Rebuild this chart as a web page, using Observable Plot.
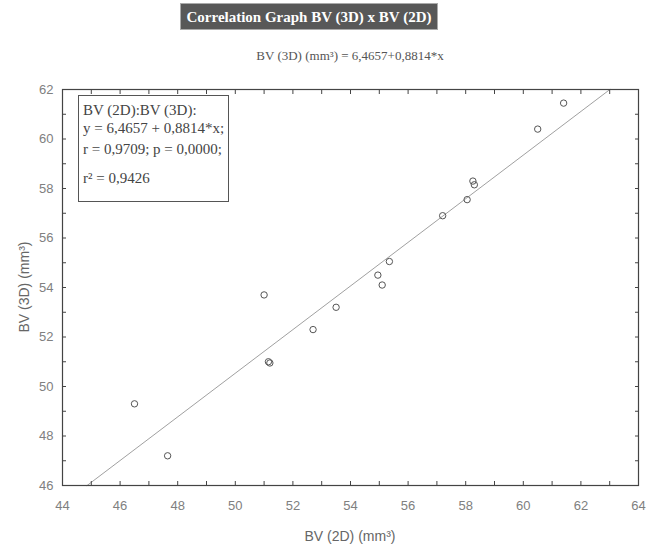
<!DOCTYPE html>
<html>
<head>
<meta charset="utf-8">
<script src="https://cdn.jsdelivr.net/npm/d3@7"></script>
<script src="https://cdn.jsdelivr.net/npm/@observablehq/plot@0.6"></script>
<style>
  html, body { margin: 0; padding: 0; background: #fff; }
  #wrap { position: relative; width: 646px; height: 549px; overflow: hidden; }
  #title { position: absolute; left: 180px; top: 3px; width: 258px; height: 27px;
    background: #585858; color: #fff; font: bold 15px "Liberation Serif", "DejaVu Serif", serif;
    text-align: center; line-height: 27px; white-space: nowrap; border: 1px solid #aaa; box-sizing: border-box; }
  #subtitle { position: absolute; left: 0; width: 700px; top: 48px; text-align: center;
    font: 13px "Liberation Serif", serif; color: #555; white-space: nowrap; }
  #legend { position: absolute; left: 78px; top: 95px; width: 151px; height: 107px;
    border: 1px solid #555; background: #fff; font: 15px "Liberation Serif", serif; color: #444;
    padding: 6px 0 0 4px; box-sizing: border-box; line-height: 17px; white-space: nowrap; }
  #xtitle { position: absolute; left: 0; width: 700px; top: 528px; text-align: center;
    font: 14px "Liberation Sans", Arial, sans-serif; color: #666; white-space: nowrap; }
  #ytitle { position: absolute; left: 24px; top: 287px; transform: translate(-50%, -50%) rotate(-90deg);
    font: 14px "Liberation Sans", Arial, sans-serif; color: #666; white-space: nowrap; }
</style>
</head>
<body>
<div id="wrap">
  <div id="chart"></div>
  <div id="title">Correlation Graph BV (3D) x BV (2D)</div>
  <div id="subtitle">BV (3D) (mm³) = 6,4657+0,8814*x</div>
  <div id="legend">
    <div>BV (2D):BV (3D):</div>
    <div style="margin-top:1px">y = 6,4657 + 0,8814*x;</div>
    <div style="margin-top:4px">r = 0,9709; p = 0,0000;</div>
    <div style="margin-top:12px">r² = 0,9426</div>
  </div>
  <div id="xtitle">BV (2D) (mm³)</div>
  <div id="ytitle">BV (3D) (mm³)</div>
</div>
<script>
// Data
const bv2d = [46.5, 47.65, 51.0, 51.15, 51.2, 52.7, 53.5, 54.95, 55.1, 55.35, 57.2, 58.05, 58.25, 58.3, 60.5, 61.4];
const bv3d = [49.3, 47.2, 53.7, 51.0, 50.95, 52.3, 53.2, 54.5, 54.1, 55.05, 56.9, 57.55, 58.3, 58.15, 60.4, 61.45];
const intercept = 6.4657;
const slope = 0.8814;
const xTicks = [44, 46, 48, 50, 52, 54, 56, 58, 60, 62, 64];
const yTicks = [46, 48, 50, 52, 54, 56, 58, 60, 62];

const points = bv2d.map((x, i) => ({x, y: bv3d[i]}));
const xDomain = [44, 64], yDomain = [46, 62];
const fitLine = yDomain.map(y => ({x: (y - intercept) / slope, y}));
const minorX = d3.range(xDomain[0], xDomain[1] + 1, 1);
const minorY = d3.range(yDomain[0], yDomain[1] + 1, 1);

const chart = Plot.plot({
  width: 646, height: 549,
  marginTop: 89, marginBottom: 64, marginLeft: 62, marginRight: 8,
  x: {domain: xDomain},
  y: {domain: yDomain},
  style: {fontFamily: "'Liberation Sans', Arial, sans-serif", color: "#808080", background: "#fff"},
  marks: [
    Plot.line(fitLine, {x: "x", y: "y", stroke: "#888", strokeWidth: 0.8}),
    Plot.dot(points, {x: "x", y: "y", r: 3.2, stroke: "#555", strokeWidth: 1, fill: "none"}),
    Plot.axisX({anchor: "bottom", ticks: xTicks, tickSize: 0, tickPadding: 15, fontSize: 13, label: null}),
    Plot.axisY({anchor: "left", ticks: yTicks, tickSize: 0, tickPadding: 9, fontSize: 13, label: null}),
    Plot.axisX({anchor: "bottom", ticks: minorX, tickSize: -4, tickFormat: () => "", label: null, stroke: "#444"}),
    Plot.axisX({anchor: "top", ticks: minorX, tickSize: -4, tickFormat: () => "", label: null, stroke: "#444"}),
    Plot.axisY({anchor: "left", ticks: minorY, tickSize: -4, tickFormat: () => "", label: null, stroke: "#444"}),
    Plot.axisY({anchor: "right", ticks: minorY, tickSize: -4, tickFormat: () => "", label: null, stroke: "#444"}),
    Plot.frame({stroke: "#444", strokeWidth: 1.2})
  ]
});
document.getElementById("chart").appendChild(chart);
</script>
</body>
</html>
